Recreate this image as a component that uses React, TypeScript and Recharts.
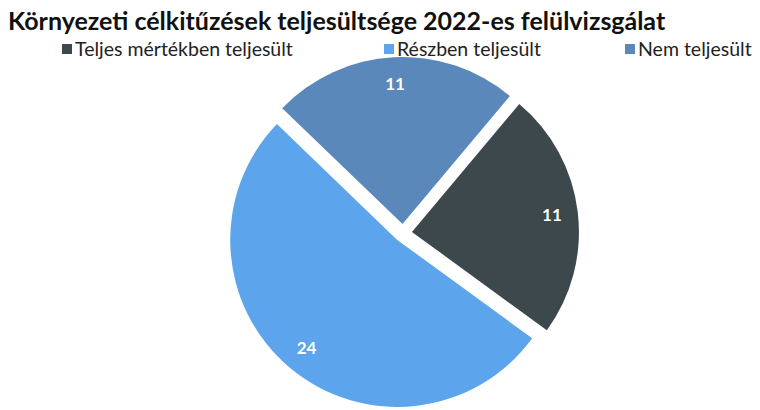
import React from "react";
import { PieChart, Pie, Cell, Legend, Sector } from "recharts";

const categories = ["Teljes mértékben teljesült", "Részben teljesült", "Nem teljesült"];
const counts = [11, 24, 11];
const colors = ["#3c484b", "#5ca5ec", "#5a88ba"];

const data = categories.map((name, i) => ({ name, value: counts[i] }));

const RAD = Math.PI / 180;
const EXPLODE = 9;
const FONT = "Lato, 'Open Sans', sans-serif";

// every slice is pulled out a bit along its middle angle
const ExplodedSlice = (props: any) => {
  const { cx, cy, midAngle } = props;
  const dx = EXPLODE * Math.cos(-midAngle * RAD);
  const dy = EXPLODE * Math.sin(-midAngle * RAD);
  return <Sector {...props} cx={cx + dx} cy={cy + dy} />;
};

const renderLabel = (props: any) => {
  const { cx, cy, midAngle, outerRadius, value } = props;
  const r = outerRadius - 17;
  const x = cx + r * Math.cos(-midAngle * RAD);
  const y = cy + r * Math.sin(-midAngle * RAD);
  return (
    <text x={x} y={y} fill="#fff" fontSize={17} fontWeight={700} fontFamily={FONT} textAnchor="middle" dominantBaseline="central">
      {value}
    </text>
  );
};

const legendLeft = [62, 384, 625];

const renderLegend = (props: any) => {
  const payload = [...(props.payload || [])].sort(
    (a: any, b: any) => categories.indexOf(a.value) - categories.indexOf(b.value)
  );
  return (
    <div style={{ position: "relative", width: 760, height: 24, fontFamily: FONT, fontSize: 19.5, color: "#222" }}>
      {payload.map((p: any) => (
        <div
          key={p.value}
          style={{ position: "absolute", left: legendLeft[categories.indexOf(p.value)], top: 0, display: "flex", alignItems: "center", whiteSpace: "nowrap" }}
        >
          <span style={{ display: "inline-block", width: 10, height: 10, background: p.color, marginRight: 3 }} />
          {p.value}
        </div>
      ))}
    </div>
  );
};

export default function App() {
  return (
    <div style={{ position: "absolute", left: 0, top: 0, width: 760, height: 410, background: "#fff", overflow: "hidden" }}>
      <div style={{ position: "absolute", left: 8, top: 5, fontFamily: FONT, fontWeight: 700, fontSize: 25, color: "#111", whiteSpace: "nowrap" }}>
        Környezeti célkitűzések teljesültsége 2022-es felülvizsgálat
      </div>
      <PieChart width={760} height={410} margin={{ top: 0, right: 0, bottom: 0, left: 0 }}>
        <Legend
          verticalAlign="bottom"
          align="left"
          content={renderLegend}
          wrapperStyle={{ position: "absolute", top: 37, bottom: "auto", left: 0, width: 760 }}
        />
        <Pie
          data={data}
          dataKey="value"
          nameKey="name"
          cx={403}
          cy={233}
          outerRadius={167}
          startAngle={50}
          endAngle={-310}
          stroke="none"
          shape={ExplodedSlice}
          label={renderLabel}
          labelLine={false}
          isAnimationActive={false}
        >
          {data.map((d, i) => (
            <Cell key={d.name} fill={colors[i]} />
          ))}
        </Pie>
      </PieChart>
    </div>
  );
}
